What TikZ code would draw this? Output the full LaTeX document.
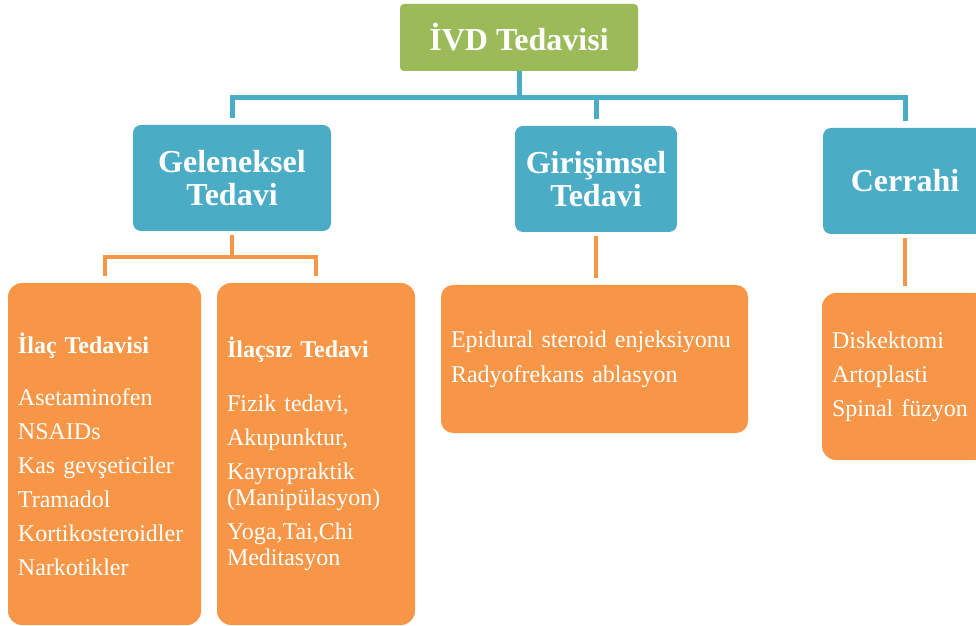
\documentclass[tikz,border=0pt]{standalone}
\usepackage{fontspec}
\setmainfont{Liberation Serif}
\definecolor{yesil}{HTML}{9BBB59}
\definecolor{mavi}{HTML}{4BACC6}
\definecolor{turuncu}{HTML}{F79646}
\tikzset{
  kutu/.style={text=white, inner sep=0pt, align=center},
  ana/.style={kutu, fill=yesil, rounded corners=2pt, font=\fontsize{16}{17}\selectfont\bfseries},
  dal/.style={kutu, fill=mavi, rounded corners=4pt, font=\fontsize{16}{16.5}\selectfont\bfseries},
  liste/.style={kutu, fill=turuncu, rounded corners=7pt, align=left, inner xsep=5pt, font=\fontsize{12}{13}\selectfont},
  mavicizgi/.style={mavi, line width=2.5pt, shorten >=3.5pt},
  turuncucizgi/.style={turuncu, line width=2pt, shorten <=2pt, shorten >=3.5pt}
}
\begin{document}
\begin{tikzpicture}[x=0.5pt, y=-0.5pt]
  \useasboundingbox (0,0) rectangle (976,626);
  % ust seviye
  \node[ana, minimum width=119pt, minimum height=33.5pt] (ivd) at (519,37.5) {İVD Tedavisi};
  \node[dal, minimum width=99pt, minimum height=53pt] (geleneksel) at (232,178) {Geleneksel\\Tedavi};
  \node[dal, minimum width=81pt, minimum height=53pt] (girisimsel) at (596,179) {Girişimsel\\Tedavi};
  \node[dal, minimum width=82pt, minimum height=53pt] (cerrahi) at (905,181) {Cerrahi};
  % alt kutular
  \node[liste, text width=86.5pt, minimum height=171pt] (ilac) at (104.5,454)
    {\textbf{İlaç Tedavisi}\\[13pt] Asetaminofen\\[4pt] NSAIDs\\[4pt] Kas gevşeticiler\\[4pt] Tramadol\\[4pt] Kortikosteroidler\\[4pt] Narkotikler};
  \node[liste, text width=89pt, minimum height=171pt] (ilacsiz) at (316,454)
    {\textbf{İlaçsız Tedavi}\\[14pt] Fizik tedavi,\\[4pt] Akupunktur,\\[4pt] Kayropraktik\\(Manipülasyon)\\[4pt] Yoga,Tai,Chi\\Meditasyon};
  \node[liste, rounded corners=6pt, text width=143.5pt, minimum height=74pt] (epidural) at (594.5,359)
    {Epidural steroid enjeksiyonu\\[4.5pt] Radyofrekans ablasyon};
  \node[liste, text width=73pt, minimum height=83.5pt] (cerrahiliste) at (905,376.5)
    {Diskektomi\\[4pt] Artoplasti\\[4pt] Spinal füzyon};
  % baglantilar
  \foreach \a in {geleneksel, girisimsel, cerrahi}
    \draw[mavicizgi] (ivd.south) -- ++(0,26) -| (\a.north);
  \foreach \a in {ilac, ilacsiz}
    \draw[turuncucizgi] (geleneksel.south) -- ++(0,26) -| (\a.north);
  \foreach \u/\a in {girisimsel/epidural, cerrahi/cerrahiliste}
    \draw[turuncucizgi] (\u.south) -- (\u.south |- \a.north);
\end{tikzpicture}
\end{document}
